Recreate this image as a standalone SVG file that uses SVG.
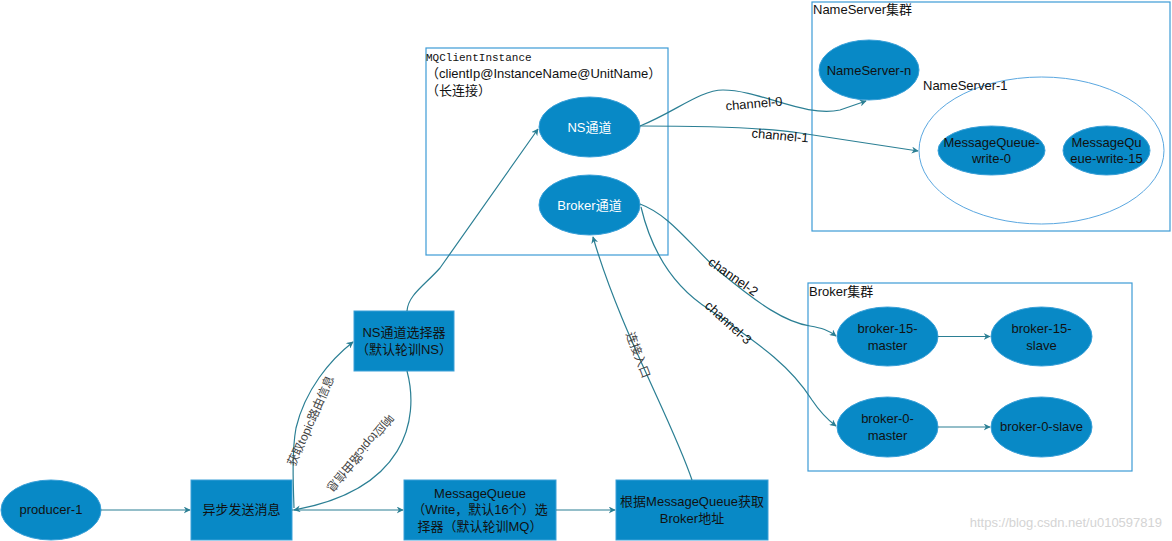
<svg xmlns="http://www.w3.org/2000/svg" width="1172" height="541" viewBox="0 0 1172 541">
<style>
text{font-family:"Liberation Sans","Noto Sans CJK SC",sans-serif;font-size:13px;fill:#111}
.c{text-anchor:middle}
.w{fill:#fff}
.mono{font-family:"Liberation Mono","Noto Sans CJK SC",monospace;font-size:11px}
.lbl{font-size:12px;fill:#444}
.frame{fill:none;stroke:#3d9bd6;stroke-width:1.2}
.node{fill:#0889c6;stroke:#3aa0d8;stroke-width:1}
.edge{fill:none;stroke:#2b7f94;stroke-width:1.2;marker-end:url(#ah)}
</style>
<defs>
<marker id="ah" viewBox="0 0 10 10" refX="9" refY="5" markerWidth="7" markerHeight="7" markerUnits="userSpaceOnUse" orient="auto-start-reverse">
<path d="M0,0 L10,5 L0,10 L3,5 z" fill="#2b7f94"/>
</marker>
</defs>
<rect width="1172" height="541" fill="#fff"/>

<g id="mqclient">
<rect class="frame" x="426" y="48" width="242" height="207"/>
<text class="mono" x="426" y="61">MQClientInstance</text>
<text x="426" y="78">（clientIp@InstanceName@UnitName）</text>
<text x="426" y="95">（长连接）</text>
</g>
<g id="ns-channel"><ellipse class="node" cx="589.5" cy="127" rx="50.5" ry="30"/><text class="c w" x="589.5" y="132">NS通道</text></g>
<g id="broker-channel"><ellipse class="node" cx="589.5" cy="205" rx="50.5" ry="30"/><text class="c w" x="589.5" y="210">Broker通道</text></g>

<g id="nameserver-cluster">
<rect class="frame" x="812" y="2" width="358" height="229"/>
<text x="813" y="14">NameServer集群</text>
</g>
<g id="nameserver-n"><ellipse class="node" cx="869" cy="70" rx="50" ry="30"/><text class="c" x="869" y="75">NameServer-n</text></g>
<g id="nameserver-1">
<ellipse cx="1041.5" cy="150.5" rx="122.5" ry="73.5" fill="#fff" stroke="#5aa7e0" stroke-width="1"/>
<text x="923" y="90">NameServer-1</text>
</g>
<g id="mq-write-0"><ellipse class="node" cx="991.5" cy="150.5" rx="53.5" ry="24.5"/><text class="c" x="991.5" y="147">MessageQueue-</text><text class="c" x="991.5" y="163">write-0</text></g>
<g id="mq-write-15"><ellipse class="node" cx="1106.5" cy="150.5" rx="43.5" ry="24.5"/><text class="c" x="1106.5" y="147">MessageQu</text><text class="c" x="1106.5" y="163">eue-write-15</text></g>

<g id="broker-cluster">
<rect class="frame" x="808" y="283" width="324" height="188"/>
<text x="809" y="296">Broker集群</text>
</g>
<g id="broker-15-master"><ellipse class="node" cx="887.5" cy="336.5" rx="50.5" ry="29.5"/><text class="c" x="887.5" y="333">broker-15-</text><text class="c" x="887.5" y="350">master</text></g>
<g id="broker-15-slave"><ellipse class="node" cx="1041.5" cy="336.5" rx="50.5" ry="29.5"/><text class="c" x="1041.5" y="333">broker-15-</text><text class="c" x="1041.5" y="350">slave</text></g>
<g id="broker-0-master"><ellipse class="node" cx="887.5" cy="427" rx="50.5" ry="30"/><text class="c" x="887.5" y="423">broker-0-</text><text class="c" x="887.5" y="440">master</text></g>
<g id="broker-0-slave"><ellipse class="node" cx="1041.5" cy="427" rx="50.5" ry="30"/><text class="c" x="1041.5" y="431">broker-0-slave</text></g>

<g id="ns-selector"><rect class="node" x="354" y="311" width="100" height="60"/><text class="c" x="404" y="337">NS通道选择器</text><text class="c" x="404" y="354">（默认轮训NS）</text></g>
<g id="producer-1"><ellipse class="node" cx="51" cy="510" rx="50" ry="30"/><text class="c" x="51" y="514">producer-1</text></g>
<g id="async-send"><rect class="node" x="191" y="480" width="101" height="60"/><text class="c" x="241.5" y="514">异步发送消息</text></g>
<g id="mq-selector"><rect class="node" x="404" y="480" width="152" height="60"/><text class="c" x="480" y="498">MessageQueue</text><text class="c" x="480" y="514">（Write，默认16个）选</text><text class="c" x="480" y="531">择器（默认轮训MQ）</text></g>
<g id="broker-addr"><rect class="node" x="616" y="480" width="152" height="60"/><text class="c" x="692" y="506">根据MessageQueue获取</text><text class="c" x="692" y="523">Broker地址</text></g>

<g id="connectors">
<path class="edge" d="M101,510 L190,510"/>
<path class="edge" d="M292,510 L403,510"/>
<path class="edge" d="M556,510 L615,510"/>
<path class="edge" d="M294,508 C293,480 292,450 296,428 C305,390 330,360 353,342"/>
<path class="edge" d="M407,371 C420,420 405,490 294,510"/>
<path class="edge" d="M407,311 C408,295 425,285 440,268 L538,129"/>
<path class="edge" d="M692,480 C672,420 620,330 593,237"/>
<path class="edge" d="M640,126 C675,112 700,90 723,90 C760,90 805,118 840,110 L866,101"/>
<path class="edge" d="M640,126 C700,126 760,127 800,133 L918,151"/>
<path class="edge" d="M640,204 C670,215 690,245 720,272 C760,305 785,322 810,326 C822,328 828,330 836,336"/>
<path class="edge" d="M641,207 C650,245 670,285 710,310 C760,345 790,365 812,400 C820,412 828,420 836,426"/>
<path class="edge" d="M938,336.5 L990,336.5"/>
<path class="edge" d="M938,427 L990,427"/>
<text class="lbl" transform="translate(311,421) rotate(-66)" text-anchor="middle" y="4">获取topic路由信息</text>
<text class="lbl" transform="translate(360,453) rotate(130)" text-anchor="middle" y="4">响应topic路由信息</text>
<text class="lbl" transform="translate(638,355) rotate(69)" text-anchor="middle" y="4">连接入口</text>
<text transform="translate(754,104) rotate(-5)" text-anchor="middle" y="4">channel-0</text>
<text transform="translate(780,136) rotate(5)" text-anchor="middle" y="4">channel-1</text>
<text transform="translate(733,277) rotate(35)" text-anchor="middle" y="4">channel-2</text>
<text transform="translate(728,323) rotate(42)" text-anchor="middle" y="4">channel-3</text>
</g>
<text x="1162" y="527" text-anchor="end" style="fill:#d4d4d4;font-size:13px">https://blog.csdn.net/u010597819</text>
</svg>
